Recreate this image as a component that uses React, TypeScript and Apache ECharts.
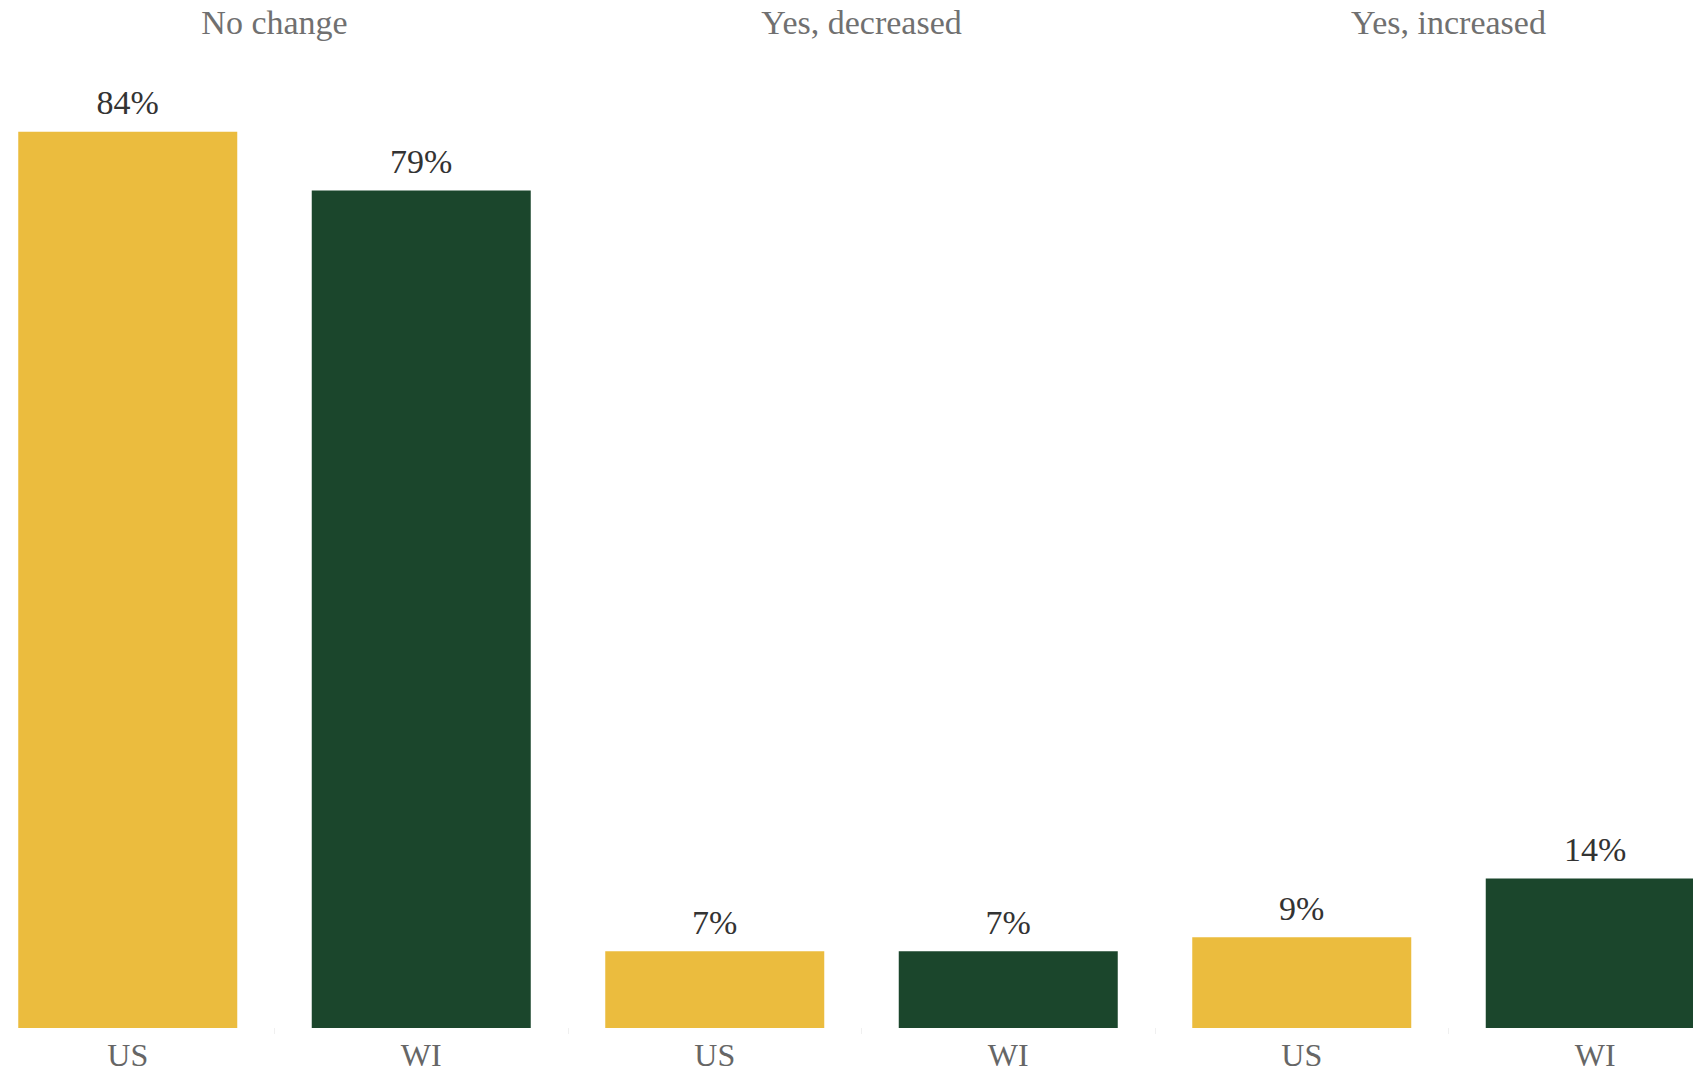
import React, { useEffect, useRef } from "react";
import * as echarts from "echarts";

const groups = ["No change", "Yes, decreased", "Yes, increased"];
const categories = ["US", "WI", "US", "WI", "US", "WI"];
const values = [84, 78.5, 7.2, 7.2, 8.5, 14];
const barColors = ["#EBBC3E", "#1B462C", "#EBBC3E", "#1B462C", "#EBBC3E", "#1B462C"];

const FONT = "'Liberation Serif', 'DejaVu Serif', serif";

export default function App() {
  const ref = useRef<HTMLDivElement>(null);
  useEffect(() => {
    if (!ref.current) return;
    const chart = echarts.init(ref.current, undefined, { renderer: "svg" });
    chart.setOption({
      animation: false,
      backgroundColor: "#ffffff",
      grid: { left: 0, right: 0, top: 67.7, bottom: 49, containLabel: false },
      xAxis: [
        {
          type: "category",
          data: categories,
          position: "bottom",
          axisLine: { show: false },
          axisTick: { show: true, length: 6, lineStyle: { color: "#f0f0f0" } },
          axisLabel: { color: "#666666", fontFamily: FONT, fontSize: 32, margin: 11 },
        },
        {
          type: "category",
          data: groups,
          position: "top",
          axisLine: { show: false },
          axisTick: { show: false },
          axisLabel: { color: "#707070", fontFamily: FONT, fontSize: 34, margin: 28 },
        },
      ],
      yAxis: {
        type: "value",
        min: 0,
        max: 90,
        show: false,
        splitLine: { show: false },
      },
      series: [
        {
          type: "bar",
          xAxisIndex: 0,
          barWidth: 219,
          data: values.map((v, i) => ({ value: v, itemStyle: { color: barColors[i] } })),
          label: {
            show: true,
            position: "top",
            distance: 12,
            color: "#333333",
            fontFamily: FONT,
            fontSize: 34,
            formatter: (p: any) => Math.round(p.value) + "%",
          },
        },
      ],
    });
    return () => chart.dispose();
  }, []);
  return (
    <div style={{ position: "fixed", left: 0, top: 0, width: 1693, height: 1077, overflow: "hidden", background: "#fff" }}>
      <div ref={ref} style={{ position: "absolute", left: -19, top: 0, width: 1761, height: 1077 }} />
    </div>
  );
}
